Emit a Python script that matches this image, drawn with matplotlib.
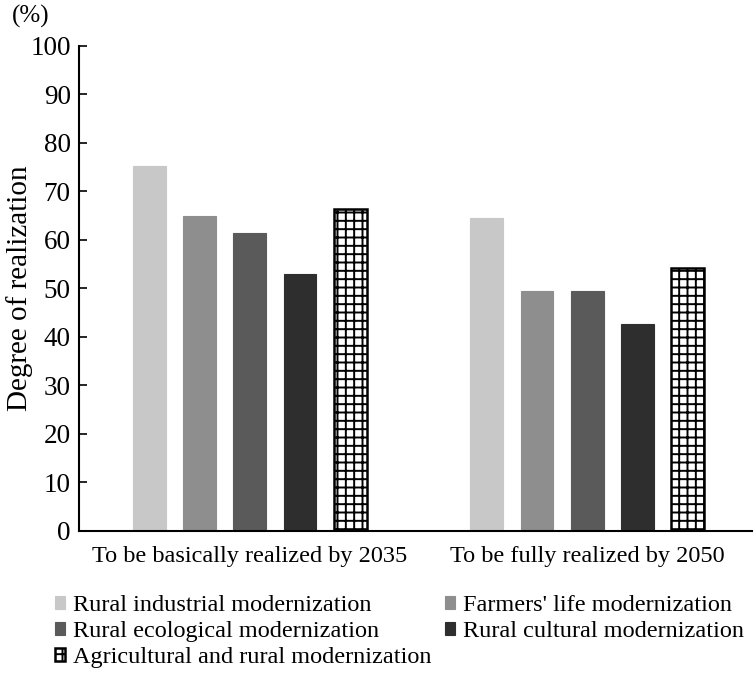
import matplotlib.pyplot as plt
import numpy as np

plt.rcParams['font.family'] = ['Liberation Serif', 'DejaVu Serif']
plt.rcParams['hatch.linewidth'] = 1.4

groups = ['To be basically realized by 2035', 'To be fully realized by 2050']
series = ['Rural industrial modernization', "Farmers' life modernization",
          'Rural ecological modernization', 'Rural cultural modernization',
          'Agricultural and rural modernization']
industrial = [75.3, 64.6]
farmers = [64.9, 49.5]
ecological = [61.4, 49.4]
cultural = [53.0, 42.7]
agricultural = [66.4, 54.3]
values = [industrial, farmers, ecological, cultural, agricultural]

colors = ['#c8c8c8', '#8e8e8e', '#5a5a5a', '#2e2e2e', 'white']

fig = plt.figure(figsize=(7.55, 6.76), dpi=100)
ax = fig.add_axes([0.1046, 0.2145, 0.8914, 0.7175])

centers = np.array([0.0, 6.72])
width = 0.65
handles = []
for i, (name, vals, c) in enumerate(zip(series, values, colors)):
    x = centers + (i - 2) * 1.0
    if i == 4:
        b = ax.bar(x, vals, width, color='white', edgecolor='black',
                   hatch='++', linewidth=1.8, label=name)
    else:
        b = ax.bar(x, vals, width, color=c, edgecolor=c, linewidth=0.8,
                   label=name)
    handles.append(b)

ax.set_xlim(-3.4, 10.0)
ax.set_ylim(0, 100)
ax.set_yticks(np.arange(0, 101, 10))
ax.set_xticks(centers)
ax.set_xticklabels(groups, fontsize=17.5)
ax.tick_params(axis='x', length=0, pad=11)
ax.tick_params(axis='y', direction='in', length=6, width=1.2,
               labelsize=19.5, pad=6)
for side in ['top', 'right']:
    ax.spines[side].set_visible(False)
ax.spines['left'].set_linewidth(1.5)
ax.spines['bottom'].set_linewidth(1.5)

ax.set_ylabel('Degree of realization', fontsize=21)
ax.yaxis.set_label_coords(-0.068, 0.5)
fig.text(0.016, 0.958, '(%)', fontsize=18, ha='left', va='bottom')

legend_kw = dict(loc='upper left', frameon=False, fontsize=17.5,
                 handlelength=0.42, handleheight=0.42, handletextpad=0.33,
                 labelspacing=0.21, borderpad=0)
left_col = [0, 2, 4]
right_col = [1, 3]
leg1 = fig.legend([handles[k] for k in left_col], [series[k] for k in left_col],
                  bbox_to_anchor=(0.057, 0.1376), **legend_kw)
leg2 = fig.legend([handles[k] for k in right_col], [series[k] for k in right_col],
                  bbox_to_anchor=(0.5736, 0.1376), **legend_kw)

fig.savefig('out.png', dpi=100)
